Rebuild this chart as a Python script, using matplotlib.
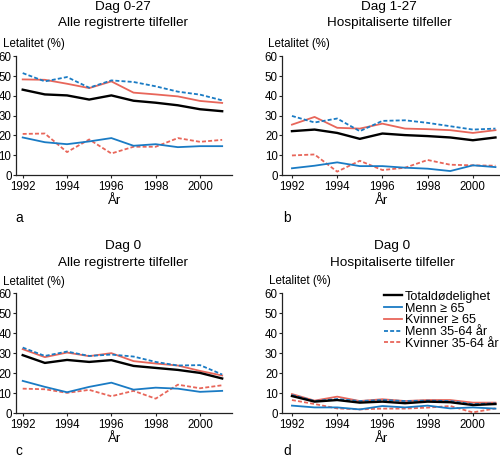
import matplotlib
matplotlib.use("Agg")
import matplotlib.pyplot as plt

plt.rcParams['font.family'] = ['Liberation Sans', 'DejaVu Sans']

years = list(range(1992, 2002))
series_names = ["Totaldødelighet", "Menn ≥ 65", "Kvinner ≥ 65", "Menn 35-64 år", "Kvinner 35-64 år"]

# Panel a: Dag 0-27, Alle registrerte tilfeller
a_total = [43.2, 40.8, 40.3, 38.2, 40.3, 37.6, 36.6, 35.3, 33.3, 32.3]
a_menn65 = [19.0, 16.6, 15.6, 17.0, 18.7, 14.8, 15.6, 14.1, 14.6, 14.6]
a_kv65 = [48.4, 48.2, 46.2, 44.0, 47.4, 41.7, 40.8, 39.8, 37.5, 36.5]
a_menn3564 = [51.6, 47.4, 49.6, 44.2, 47.9, 47.1, 44.9, 42.2, 40.7, 37.8]
a_kv3564 = [20.8, 21.0, 11.6, 18.0, 10.9, 14.3, 14.3, 18.7, 16.8, 17.8]

# Panel b: Dag 1-27, Hospitaliserte tilfeller
b_total = [22.2, 23.0, 21.3, 18.3, 21.0, 20.2, 19.7, 19.0, 17.6, 19.0]
b_menn65 = [3.4, 4.7, 6.4, 4.5, 4.5, 3.7, 3.2, 2.0, 4.9, 4.0]
b_kv65 = [25.5, 29.4, 23.9, 23.5, 26.0, 23.5, 23.2, 22.7, 21.3, 22.7]
b_menn3564 = [29.9, 26.6, 28.6, 22.2, 27.4, 27.7, 26.4, 24.7, 23.0, 23.5]
b_kv3564 = [9.9, 10.4, 1.7, 7.2, 2.5, 3.7, 7.6, 5.2, 4.9, 4.7]

# Panel c: Dag 0, Alle registrerte tilfeller
c_total = [29.0, 25.1, 26.6, 25.6, 26.5, 23.6, 22.6, 21.6, 20.1, 17.3]
c_menn65 = [16.1, 13.1, 10.4, 13.1, 15.2, 11.7, 12.7, 12.2, 10.6, 11.1]
c_kv65 = [32.0, 28.0, 30.3, 28.5, 30.0, 26.0, 24.8, 23.8, 21.1, 18.8]
c_menn3564 = [32.8, 28.6, 30.8, 28.6, 29.3, 28.3, 25.6, 23.8, 24.0, 19.3]
c_kv3564 = [12.2, 11.9, 10.1, 11.6, 8.4, 11.1, 7.2, 14.2, 12.4, 13.9]

# Panel d: Dag 0, Hospitaliserte tilfeller
d_total = [8.5, 5.7, 6.5, 5.2, 5.7, 4.9, 5.7, 5.4, 4.0, 4.5]
d_menn65 = [3.7, 2.8, 2.8, 1.8, 3.5, 2.8, 3.7, 2.3, 2.8, 2.2]
d_kv65 = [9.5, 6.2, 8.2, 6.0, 6.9, 6.0, 6.5, 6.5, 5.2, 5.2]
d_menn3564 = [9.0, 6.0, 7.0, 6.0, 6.5, 6.0, 6.2, 6.0, 4.4, 4.9]
d_kv3564 = [6.5, 4.5, 2.3, 1.8, 2.2, 2.2, 2.7, 3.5, 0.3, 2.3]

titles = [("Dag 0-27", "Alle registrerte tilfeller"),
          ("Dag 1-27", "Hospitaliserte tilfeller"),
          ("Dag 0", "Alle registrerte tilfeller"),
          ("Dag 0", "Hospitaliserte tilfeller")]
letters = ["a", "b", "c", "d"]
y_ticks = [0, 10, 20, 30, 40, 50, 60]
x_ticks = [1992, 1994, 1996, 1998, 2000]

BLUE = "#1a7bc4"
RED = "#e8665a"
styles = [
    dict(color="black", lw=1.7, ls="-"),
    dict(color=BLUE, lw=1.3, ls="-"),
    dict(color=RED, lw=1.3, ls="-"),
    dict(color=BLUE, lw=1.3, ls=(0, (2.2, 1.2))),
    dict(color=RED, lw=1.3, ls=(0, (2.2, 1.2))),
]

W, H = 500, 457
fig = plt.figure(figsize=(W / 100, H / 100), dpi=100)

def fx(x):
    return x / W

def fy(y):
    return 1 - y / H

# axes geometry in pixels: (left, right, y of value 0, y of value 60, xlim)
geo = [
    (15.7, 231.7, 175, 56.5, (1991.684, 2001.43)),
    (282, 500, 175, 56.5, (1991.56, 2001.2)),
    (15.7, 231.7, 413, 293.3, (1991.684, 2001.43)),
    (282, 500, 413, 293.3, (1991.56, 2001.2)),
]

panels = [
    [a_total, a_menn65, a_kv65, a_menn3564, a_kv3564],
    [b_total, b_menn65, b_kv65, b_menn3564, b_kv3564],
    [c_total, c_menn65, c_kv65, c_menn3564, c_kv3564],
    [d_total, d_menn65, d_kv65, d_menn3564, d_kv3564],
]

fs = 8.3
axes = []
for i, (l, r, b, t, xl) in enumerate(geo):
    ax = fig.add_axes([fx(l), fy(b), (r - l) / W, (b - t) / H])
    order = [2, 3, 4, 1, 0]
    handles = {}
    for k in order:
        ln, = ax.plot(years, panels[i][k], label=series_names[k], **styles[k])
        handles[k] = ln
    ax.set_xlim(*xl)
    ax.set_ylim(0, 60)
    ax.set_yticks(y_ticks)
    ax.set_xticks(x_ticks)
    ax.spines['top'].set_visible(False)
    ax.spines['right'].set_visible(False)
    for s in ['left', 'bottom']:
        ax.spines[s].set_linewidth(0.9)
        ax.spines[s].set_color("#222222")
    ax.tick_params(axis='both', labelsize=fs, length=2.4, width=0.8, color="#222222")
    ax.tick_params(axis='x', pad=1.8)
    ax.tick_params(axis='y', pad=0.6)
    axes.append((ax, handles))

tx = [123, 389, 123, 392]
ty1 = [10, 10, 249, 249]
ty2 = [26, 26, 266, 266]
lx = [3, 268, 3, 269]
ly = [47, 47, 285, 284]
arx = [115, 382, 115, 382]
ary = [204, 204, 442, 442]
lettx = [15, 283, 15, 283]
letty = [222, 222, 455, 455]

for i in range(4):
    fig.text(fx(tx[i]), fy(ty1[i]), titles[i][0], ha='center', va='baseline', fontsize=9.7)
    fig.text(fx(tx[i]), fy(ty2[i]), titles[i][1], ha='center', va='baseline', fontsize=9.7)
    fig.text(fx(lx[i]), fy(ly[i]), "Letalitet (%)", ha='left', va='baseline', fontsize=fs)
    fig.text(fx(arx[i]), fy(ary[i]), "År", ha='center', va='baseline', fontsize=9.5)
    fig.text(fx(lettx[i]), fy(letty[i]), letters[i], ha='left', va='baseline', fontsize=9.8)

ax_d, hd = axes[3]
leg = ax_d.legend([hd[k] for k in range(5)], series_names, loc='upper left',
                  bbox_to_anchor=((384 - 282) / 218, 1.02), frameon=False,
                  fontsize=9.1, handlelength=1.42, handletextpad=0.26,
                  labelspacing=-0.02, borderaxespad=0.0, borderpad=0.0)

fig.savefig("out.png", dpi=100)
